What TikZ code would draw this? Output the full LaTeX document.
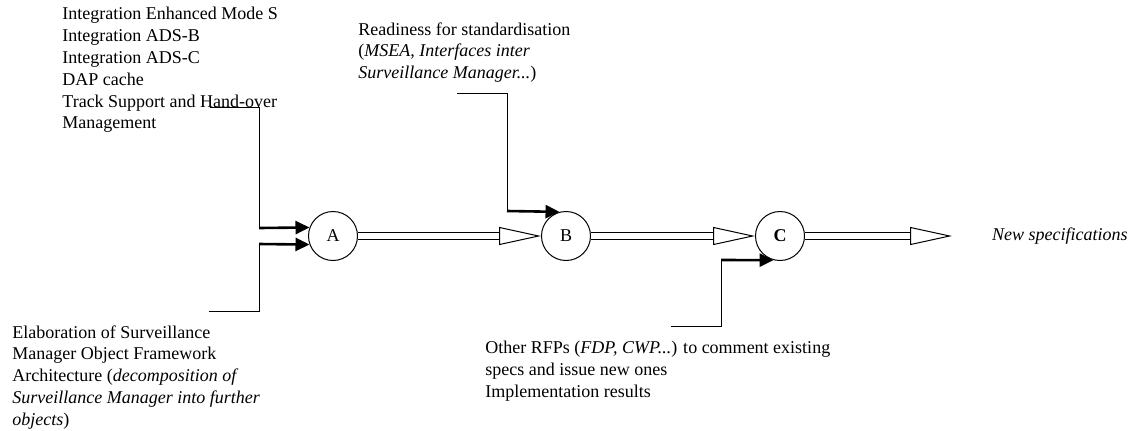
\documentclass[tikz,border=0pt]{standalone}
\usepackage{fontspec}
\setmainfont{Liberation Serif}
\usetikzlibrary{arrows.meta,positioning}

\begin{document}
\begin{tikzpicture}[
  x=0.5pt, y=-0.5pt,
  every node/.style={font=\fontsize{9}{10.9}\selectfont},
  stage/.style={draw, circle, line width=0.5pt, minimum size=24.5pt, inner sep=0pt},
  note/.style={align=left, inner sep=0pt, anchor=north west},
  feed/.style={line width=0.5pt},
  inlet/.style={line width=1.3pt, -{Triangle[length=7pt, width=6.5pt]}},
  flow/.style={double, line width=0.5pt, double distance=3pt, -{Triangle[open, length=21pt, width=9pt]}}
]
\useasboundingbox (0,0) rectangle (1130,430);

% Stages
\node[stage] (A) at (333,236) {A};
\node[stage, right=91.5pt of A] (B) {B};
\node[stage, right=82pt of B] (C) {\textbf{C}};

% Inputs
\node[note] (modes) at (62,7) {Integration Enhanced Mode S\\Integration ADS-B\\Integration ADS-C\\DAP cache\\Track Support and Hand-over\\Management};
\node[note] (ready) at (358,22) {Readiness for standardisation\\(\textit{MSEA, Interfaces inter}\\\textit{Surveillance Manager...})};
\node[note] (elab) at (12,325) {Elaboration of Surveillance\\Manager Object Framework\\Architecture (\textit{decomposition of}\\\textit{Surveillance Manager into further}\\\textit{objects})};
\node[note] (rfps) at (485,341) {Other RFPs (\textit{FDP, CWP...}) to comment existing\\specs and issue new ones\\Implementation results};

% Output
\node[anchor=west] (spec) at (985,236) {\textit{New specifications}};
\coordinate (out) at (952,236);

% Feed lines
\coordinate (s1) at (210,107);
\coordinate (s2) at (209,311);
\coordinate (s3) at (457,93);
\coordinate (s4) at (671,326);
\coordinate (k1) at (259,228);
\coordinate (k2) at (259,244);
\coordinate (k3) at (507,211);
\coordinate (k4) at (721,260);
\draw[feed] (s1) -| (k1);
\draw[feed] (s2) -| (k2);
\draw[feed] (s3) -| (k3);
\draw[feed] (s4) -| (k4);
\draw[inlet] (k1) -- (A.160);
\draw[inlet] (k2) -- (A.200);
\draw[inlet] (k3) -- (B.105);
\draw[inlet] (k4) -- (C.255);

% Main flow
\draw[flow] (A) -- (B);
\draw[flow] (B) -- (C);
\draw[flow] (C) -- (out);

\end{tikzpicture}
\end{document}
